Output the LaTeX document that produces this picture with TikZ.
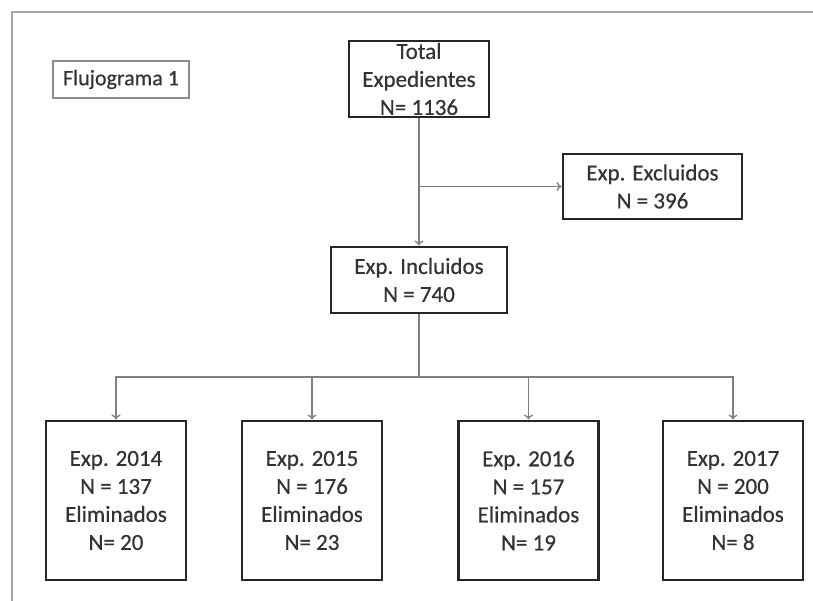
\documentclass[tikz,border=0pt]{standalone}
\usepackage{fontspec}
\setmainfont{Carlito}[UprightFeatures={FakeBold=0.5}]
\usetikzlibrary{arrows.meta}

\begin{document}
\begin{tikzpicture}[x=1pt, y=-1pt,
  box/.style={draw=black!85, line width=2.8pt, align=center, inner sep=0pt, text=black!80,
              font=\fontsize{23}{28}\selectfont},
  tag/.style={draw=black!45, line width=1.4pt, align=center, inner sep=0pt, text=black!80,
              font=\fontsize{22}{27}\selectfont},
  conn/.style={draw=black!50, line width=1.3pt, -{To[length=5pt,width=9pt]}},
  frame/.style={draw=black!35, line width=1.8pt}]

\useasboundingbox (0,0) rectangle (813,601);

% page frame (top and left edge only)
\draw[frame] (813,12) -- (12,12) -- (12,601);

% title tag
\node[tag, minimum width=136pt, minimum height=37pt] (flujo) at (121,79.5) {Flujograma 1};

% upper part
\node[box, minimum width=140pt, minimum height=76pt] (total) at (419,79)
  {\fontsize{23}{29.5}\selectfont Total\\Expedientes\\N= 1136};
\node[box, minimum width=179pt, minimum height=65pt] (excl) at (652.5,186.5) {Exp. Excluidos\\N = 396};
\node[box, minimum width=176pt, minimum height=66pt] (incl) at (419,280) {Exp. Incluidos\\N = 740};

\coordinate (branch) at (total.south |- excl.west);
\draw[conn] (total) -- (incl);
\draw[conn] (branch) -- (excl);

% one box per year
\node[box, minimum width=140pt, minimum height=159pt] (y2014) at (116,500.5) {Exp. 2014\\N = 137\\Eliminados\\N= 20};
\node[box, minimum width=140pt, minimum height=159pt] (y2015) at (312,500.5) {Exp. 2015\\N = 176\\Eliminados\\N= 23};
\node[box, minimum width=140pt, minimum height=159pt] (y2016) at (528.5,500.5) {Exp. 2016\\N = 157\\Eliminados\\N= 19};
\node[box, minimum width=140pt, minimum height=159pt] (y2017) at (733,500.5) {Exp. 2017\\N = 200\\Eliminados\\N= 8};

\coordinate (split) at (419,377);
\draw[conn, -] (incl) -- (split);
\foreach \yr in {y2014,y2015,y2016,y2017}
  \draw[conn] (split) -| (\yr.north);

\end{tikzpicture}
\end{document}
